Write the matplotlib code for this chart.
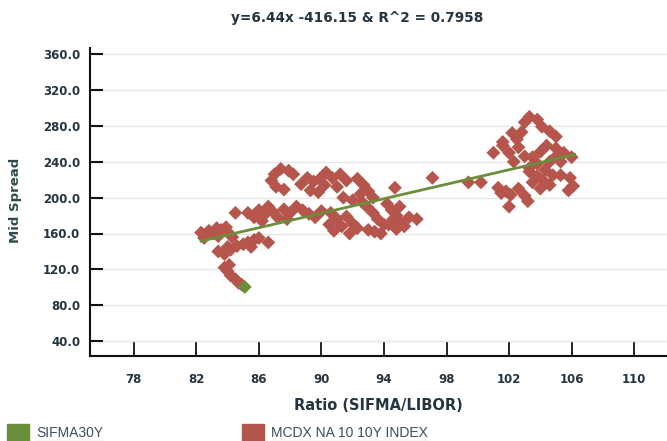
import matplotlib
matplotlib.use("Agg")
import matplotlib.pyplot as plt
from matplotlib.patches import Rectangle
from matplotlib.lines import Line2D

# MCDX NA 10 10Y INDEX points (ratio, mid spread)
mcdx_x = [82.3, 82.6, 82.8, 83.1, 83.4, 83.6, 83.9, 84.1, 82.5, 83.3, 84.3,
          83.4, 83.8, 84.2, 84.6, 85.0, 85.3, 85.7, 86.0, 84.0, 85.5, 86.6,
          83.8, 84.0, 84.2, 84.5, 84.7, 84.9, 84.1,
          84.5,
          85.3, 85.7, 86.0, 86.3, 86.6, 86.9, 87.2, 87.6, 88.0, 88.4, 88.8, 89.2, 89.6, 90.0, 86.2, 87.8,
          87.4, 87.9, 88.2, 87.0, 86.8, 87.1, 87.6,
          88.7, 89.1, 89.5, 89.9, 90.2, 89.3, 89.8,
          90.3, 90.7, 91.2, 91.6, 91.0,
          92.3, 92.7, 93.0, 93.3, 92.5,
          94.7, 91.4, 92.0, 92.6,
          90.6, 91.0, 91.3, 91.6, 92.0, 90.8, 91.8, 92.3, 90.5,
          92.9, 93.3, 93.6, 94.0, 93.0, 93.8, 93.4,
          94.2, 94.5, 94.8, 95.0, 95.3, 94.6, 94.3, 94.8, 95.6, 96.1, 95.0,
          97.1, 99.4, 100.2,
          101.3, 101.8, 102.1, 102.0, 101.5,
          103.3, 103.8, 103.0, 104.1, 104.6, 105.0, 102.2, 102.8, 102.5,
          101.6, 102.0, 102.6, 103.0, 103.5, 104.0, 103.8, 104.3, 103.3, 104.6, 105.0,
          105.0, 105.5, 106.0, 105.3,
          103.3, 103.8, 104.2, 104.6, 104.0, 103.5, 104.8,
          105.9, 106.1, 105.8, 102.6, 103.0, 103.2,
          101.6, 102.3, 104.4, 105.3, 101.0]
mcdx_y = [161, 158, 163, 160, 157, 164, 167, 160, 155, 166, 156,
          140, 137, 142, 146, 148, 150, 153, 155, 145, 145, 150,
          122, 118, 113, 109, 105, 103, 125,
          183,
          183, 178, 186, 180, 190, 184, 178, 187, 183, 190, 186, 182, 178, 185, 174, 176,
          232, 230, 226, 226, 219, 212, 209,
          215, 222, 218, 221, 214, 208, 206,
          228, 222, 226, 219, 212,
          221, 214, 207, 200, 204,
          211, 200, 197, 195,
          183, 176, 168, 179, 171, 163, 160, 166, 170,
          190, 183, 176, 170, 164, 160, 162,
          193, 186, 180, 174, 168, 176, 170, 165, 178, 176, 190,
          222, 217, 217,
          211, 207, 203, 190, 205,
          290, 287, 284, 279, 274, 268, 272, 273, 265,
          258, 250, 256, 246, 245, 251, 238, 231, 233, 240, 246,
          255, 250, 245, 240,
          229, 224, 219, 214, 210, 217, 225,
          222, 213, 208, 210, 202, 196,
          262, 240, 258, 225, 250]

# SIFMA30Y: fitted line and single point
sifma_line_x = [82.3, 106.2]
sifma_line_y = [151.5, 248.0]
sifma_pt_x = [85.1]
sifma_pt_y = [100.4]

title = "y=6.44x -416.15 & R^2 = 0.7958"
xticks = [78, 82, 86, 90, 94, 98, 102, 106, 110]
yticks = [40, 80, 120, 160, 200, 240, 280, 320, 360]

RED = "#b5554c"
GREEN = "#6b8e3d"
DARK = "#243541"

fig = plt.figure(figsize=(6.67, 4.41), dpi=100)
ax = fig.add_axes([90 / 667, 1 - 356 / 441, 577 / 667, 308 / 441])

ax.scatter(mcdx_x, mcdx_y, marker="D", s=50, color=RED, edgecolors="none", zorder=2)
ax.plot(sifma_line_x, sifma_line_y, color=GREEN, lw=2, zorder=3)
ax.scatter(sifma_pt_x, sifma_pt_y, marker="D", s=50, color=GREEN, edgecolors="none", zorder=3)

ax.set_xlim(75.2, 112.1)
ax.set_ylim(23.5, 366.7)
ax.set_xticks(xticks)
ax.set_yticks(yticks)
ax.set_yticklabels(["%.1f" % v for v in yticks])
ax.yaxis.grid(True, color="#e6e6e6", lw=1)
ax.set_axisbelow(True)

for s in ["top", "right"]:
    ax.spines[s].set_visible(False)
for s in ["left", "bottom"]:
    ax.spines[s].set_linewidth(1.5)
    ax.spines[s].set_color("#111111")

ax.tick_params(axis="y", direction="in", length=9.4, width=1.5, pad=7,
               labelsize=8.5, labelcolor=DARK, color="#111111")
ax.tick_params(axis="x", direction="in", length=10.8, width=1.3, pad=12,
               labelsize=8.5, labelcolor=DARK, color="#111111")
for lbl in ax.get_xticklabels() + ax.get_yticklabels():
    lbl.set_fontweight("bold")

fig.text(357 / 667, 1 - 18 / 441, title, ha="center", va="center",
         fontsize=9.8, fontweight="bold", color=DARK)
fig.text(15 / 667, 1 - 200 / 441, "Mid Spread", rotation=90, ha="center", va="center",
         fontsize=9.5, fontweight="bold", color="#2e4b4b")
fig.text(378 / 667, 1 - 405 / 441, "Ratio (SIFMA/LIBOR)", ha="center", va="center",
         fontsize=10.5, fontweight="bold", color=DARK)

# legend drawn by hand, underlined labels
legend_items = [("SIFMA30Y", GREEN, 7), ("MCDX NA 10 10Y INDEX", RED, 242)]
fig.canvas.draw()
renderer = fig.canvas.get_renderer()
for name, col, x0 in legend_items:
    fig.patches.append(Rectangle((x0 / 667, 0), 22 / 667, 17 / 441,
                                 transform=fig.transFigure, color=col))
    t = fig.text((x0 + 29) / 667, 1 - 433 / 441, name, ha="left", va="center",
                 fontsize=10, color="#3b4f5c", family=["Liberation Sans", "DejaVu Sans"])
    bb = t.get_window_extent(renderer).transformed(fig.transFigure.inverted())
    fig.add_artist(Line2D([bb.x0, bb.x1], [bb.y0 - 0.002, bb.y0 - 0.002],
                          transform=fig.transFigure, color="#3b4f5c", lw=0.8))

fig.savefig("out.png", dpi=100)
